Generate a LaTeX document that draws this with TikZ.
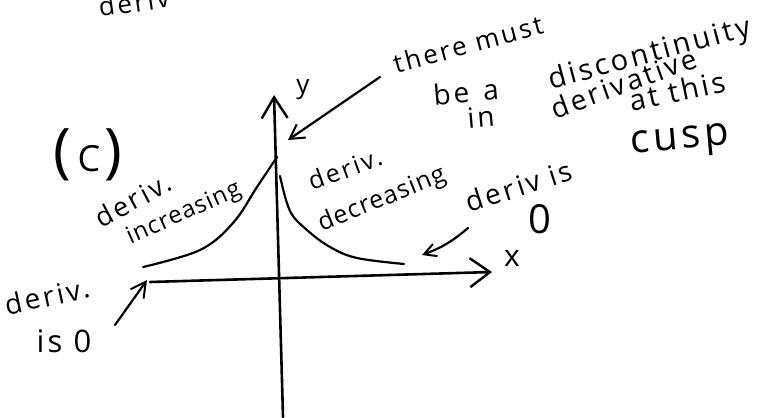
\documentclass[tikz,border=0pt]{standalone}
\usepackage{fontspec}
\newfontfamily\hand[LetterSpace=10]{Open Sans}
\newfontfamily\handn[LetterSpace=4]{Open Sans}
\usetikzlibrary{arrows.meta}
\tikzset{
  ink/.style={line width=2.6pt, line cap=round, line join=round},
  pen/.style={line width=2.2pt, line cap=round, line join=round},
  lbl/.style={font=\hand, inner sep=0pt, anchor=center},
}
\newcommand{\fs}[1]{\fontsize{#1}{#1}\selectfont}
\begin{document}
\begin{tikzpicture}[x=1pt, y=-1pt]
\useasboundingbox (0,0) rectangle (759,417);
% axes
\coordinate (ybot) at (283,417);
\coordinate (ytop) at (274,95);
\coordinate (xl) at (150,282);
\coordinate (xr) at (492,272);
\draw[ink, -{Straight Barb[length=21pt, width=26pt, line width=2.4pt]}] (ybot) -- (ytop);
\draw[ink, -{Straight Barb[length=20pt, width=29pt, line width=2.4pt]}] (xl) -- (xr);
% curves
\draw[pen] plot[smooth, tension=0.6] coordinates {(143,267) (200,250) (233,223) (257,187) (277,157)};
\draw[pen] plot[smooth, tension=0.6] coordinates {(280,176) (290,211) (307,230) (330,247) (357,258) (404,264)};
% labels
\node[lbl, rotate=8, anchor=base west] (top) at (100,17) {\fs{26}deriv};
\node[lbl] (ylab) at (303,90) {\fs{26}y};
\node[lbl] (xlab) at (512,258) {\fs{30}x};
\node[lbl, rotate=15] (must) at (468,44) {\fs{26}there must};
\node[lbl, rotate=5] (bea) at (466,92) {\fs{28}be\hspace{14pt}a};
\node[lbl, rotate=15] (disc) at (650,55) {\fs{29}discontinuity};
\node[lbl, rotate=5] (in) at (481,117) {\fs{28}in};
\node[lbl, rotate=20] (deriv) at (624,83) {\fs{28}derivative};
\node[lbl, rotate=12] (atthis) at (677,91) {\fs{29}at this};
\node[lbl, rotate=5] (cusp) at (680,143) {\fs{40}cusp};
\node[lbl] (C) at (88,155) {\fs{60}(\hspace{6pt}\fs{36}C\hspace{4pt}\fs{60})};
\node[lbl, rotate=28] (dl) at (133,200) {\fs{27}deriv.};
\node[lbl, rotate=24, font=\handn] (inc) at (184,214) {\fs{24}increasing};
\node[lbl, rotate=20] (dr) at (345,169) {\fs{25}deriv.};
\node[lbl, rotate=22, font=\handn] (dec) at (382,200) {\fs{25}decreasing};
\node[lbl, rotate=18] (dis) at (519,186) {\fs{28}deriv is};
\node[lbl] (zero) at (540,219) {\fs{40}0};
\node[lbl, rotate=12] (dz) at (47,296) {\fs{28}deriv.};
\node[lbl] (is0) at (64,341) {\fs{31}is 0};
% pointer arrows
\coordinate (a1s) at (380,77);
\coordinate (a1e) at (288,140);
\coordinate (a2s) at (468,228);
\coordinate (a2e) at (422,255);
\coordinate (a3s) at (115,325);
\coordinate (a3e) at (147,280);
\draw[pen, -{Straight Barb[length=14pt, width=16pt, line width=2pt]}] (a1s) -- (a1e);
\draw[pen, -{Straight Barb[length=12pt, width=13pt, line width=2pt]}] (a2s) to[bend left=10] (a2e);
\draw[pen, -{Straight Barb[length=15pt, width=16pt, line width=2pt]}] (a3s) -- (a3e);
\end{tikzpicture}
\end{document}
